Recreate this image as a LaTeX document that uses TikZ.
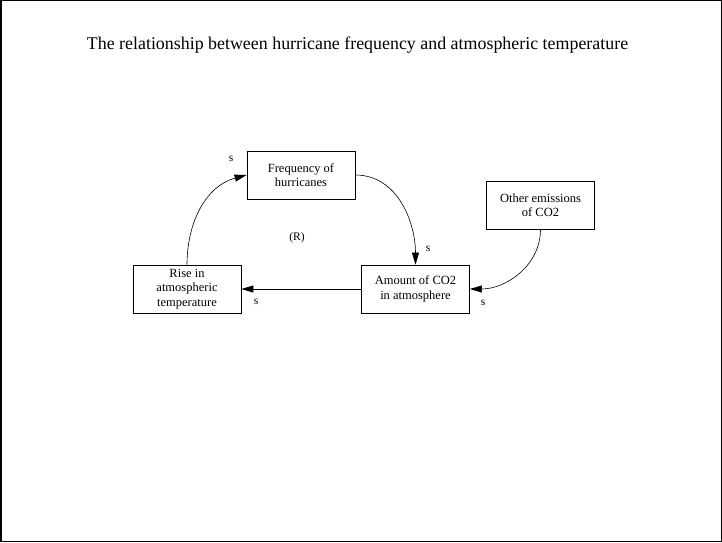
\documentclass[tikz,border=0pt]{standalone}
\usepackage{fontspec}
\setmainfont{Liberation Serif}
\usetikzlibrary{arrows.meta}

\begin{document}
\begin{tikzpicture}[
      x=1pt, y=1pt,
      box/.style={draw, thick, minimum width=108pt, minimum height=48pt, align=center, font=\fontsize{12.5}{14.5}\selectfont},
      arr/.style={-{Triangle[length=12pt,width=7pt]}, semithick},
      lbl/.style={font=\fontsize{11.5}{13}\selectfont}
    ]
      \useasboundingbox (0,0) rectangle (722,542);
      \draw[line width=1.5pt] (0.75,0.75) rectangle (721.25,541.25);
      \node[font=\fontsize{17.9}{20}\selectfont] (title) at (357.5,497) {The relationship between hurricane frequency and atmospheric temperature};
      \node[box] (freq)   at (301,367)   {Frequency of\\hurricanes};
      \node[box] (rise)   at (187,253)   {Rise in\\atmospheric\\temperature};
      \node[box] (amount) at (415.5,253) {Amount of CO2\\in atmosphere};
      \node[box] (other)  at (540.5,337) {Other emissions\\of CO2};
      \node[lbl] (loop) at (297,304) {(R)};
      \draw[arr] (rise.north) to[out=90, in=195] (freq.west);
      \draw[arr] (freq.east) to[out=0, in=90] (amount.north);
      \draw[arr] (amount.west) -- (rise.east);
      \draw[arr] (other.south) to[out=-90, in=0] (amount.east);
      \node[lbl] (s1) at (231,383) {s};
      \node[lbl] (s2) at (428,293) {s};
      \node[lbl] (s3) at (256,240) {s};
      \node[lbl] (s4) at (483,239) {s};
    \end{tikzpicture}
\end{document}
